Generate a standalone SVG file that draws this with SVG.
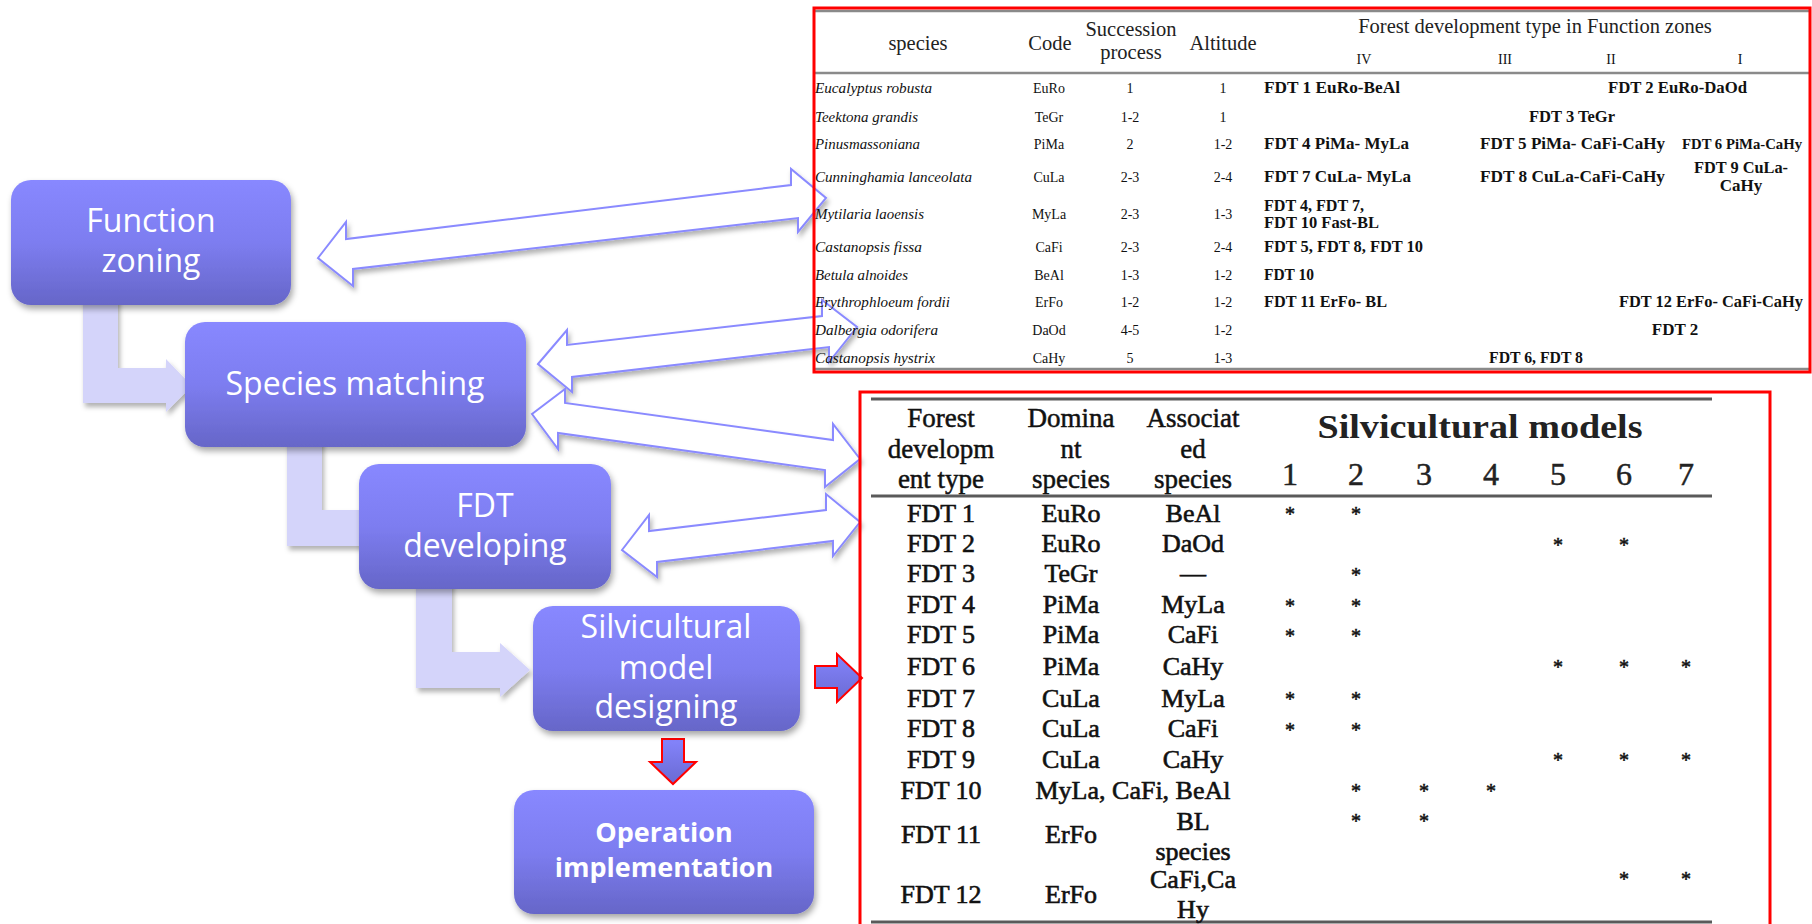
<svg xmlns="http://www.w3.org/2000/svg" width="1812" height="924" viewBox="0 0 1812 924">
  <defs>
    <linearGradient id="boxFill" x1="0" y1="0" x2="0" y2="1">
      <stop offset="0" stop-color="#8888ff"/>
      <stop offset="0.5" stop-color="#7d7df0"/>
      <stop offset="1" stop-color="#6666c8"/>
    </linearGradient>
    <linearGradient id="redArrowFill" x1="0" y1="0" x2="0" y2="1">
      <stop offset="0" stop-color="#8484fc"/>
      <stop offset="1" stop-color="#6a6ad2"/>
    </linearGradient>
    <filter id="boxShadow" x="-10%" y="-10%" width="125%" height="130%">
      <feDropShadow dx="2" dy="4" stdDeviation="3" flood-color="#000" flood-opacity="0.35"/>
    </filter>
    <filter id="arrowShadow" x="-10%" y="-30%" width="125%" height="170%">
      <feDropShadow dx="2" dy="4" stdDeviation="2.5" flood-color="#000" flood-opacity="0.3"/>
    </filter>
    <style>
      .box { fill: url(#boxFill); filter: url(#boxShadow); }
      .box-text { font-family: "Open Sans", "DejaVu Sans", sans-serif; font-size: 32px; fill: #ffffff; text-anchor: middle; }
      .box-bold { font-weight: bold; font-size: 27px; }
      .elbow { fill: #d4d4fa; filter: url(#arrowShadow); }
      .dbl { fill: #ffffff; stroke: #8a8aff; stroke-width: 2; stroke-linejoin: miter; filter: url(#arrowShadow); }
      .red-arrow { fill: url(#redArrowFill); stroke: #ff0000; stroke-width: 2; }
      .frame { fill: none; stroke: #ff0000; stroke-width: 3; }
      .rule-top { stroke: #8a8a8a; stroke-width: 2.5; }
      .rule-bot { stroke: #5a5a5a; stroke-width: 3; }
      .th { font-family: "Liberation Serif", "Times New Roman", serif; font-size: 20.5px; fill: #222; text-anchor: middle; }
      .sp { font-family: "Liberation Serif", "Times New Roman", serif; font-size: 15px; font-style: italic; fill: #111; }
      .tc { font-family: "Liberation Serif", "Times New Roman", serif; font-size: 14px; fill: #111; text-anchor: middle; }
      .tb { font-family: "Liberation Serif", "Times New Roman", serif; font-size: 17px; font-weight: bold; fill: #111; }
      .tb-small { font-size: 14.5px; }
      .tbm { text-anchor: middle; }
      .bh { font-family: "Liberation Serif", "Times New Roman", serif; font-size: 27px; fill: #111; stroke: #111; stroke-width: 0.5; text-anchor: middle; }
      .bc { font-family: "Liberation Serif", "Times New Roman", serif; font-size: 26px; fill: #111; stroke: #111; stroke-width: 0.6; text-anchor: middle; }
      .bt { font-family: "Liberation Serif", "Times New Roman", serif; font-size: 33px; font-weight: bold; fill: #222; text-anchor: middle; }
      .bn { font-family: "Liberation Serif", "Times New Roman", serif; font-size: 32px; fill: #222; stroke: #222; stroke-width: 0.5; text-anchor: middle; }
      .star { font-family: "Liberation Serif", "Times New Roman", serif; font-size: 20px; fill: #111; stroke: #111; stroke-width: 0.5; text-anchor: middle; }
    </style>
  </defs>

  <rect width="1812" height="924" fill="#ffffff"/>

  <!-- Connectors (drawn beneath the tables and the process boxes) -->
  <g id="connectors">
    <!-- step elbows between process boxes -->
    <polygon class="elbow" points="83,290 118,290 118,368 166,368 166,359 192,386 166,412 166,403 83,403"/>
    <polygon class="elbow" points="287,435 322,435 322,510 380,510 380,546 287,546"/>
    <polygon class="elbow" points="416,575 452,575 452,652 500,652 500,643 530,670 500,697 500,688 416,688"/>

    <!-- two-way block arrows to the tables -->
    <polygon class="dbl" points="318,258 346,222 346,239 791,185 791,169 826,198 798,232 798,218 353,269 353,286"/>
    <polygon class="dbl" points="538,364 567,330 567,345 822,316 822,300 857,327 829,362 829,347 572,377 572,392"/>
    <polygon class="dbl" points="532,414 565,389 565,403 833,440 833,424 860,459 825,487 825,470 558,433 558,449"/>
    <polygon class="dbl" points="622,550 649,515 649,531 826,510 826,494 860,522 833,556 833,541 657,562 657,577"/>

    <!-- red-outlined arrows -->
    <polygon class="red-arrow" points="815,666 837,666 837,654 862,678 837,702 837,688 815,688"/>
    <polygon class="red-arrow" points="662,739 684,739 684,762 696,762 673,784 650,762 662,762"/>
  </g>

  <!-- Species / FDT table (top right) -->
  <g id="species-table">
    <line class="rule-top" x1="815" y1="11" x2="1809" y2="11"/>
    <line class="rule-top" x1="815" y1="73" x2="1809" y2="73"/>
    <line class="rule-top" x1="815" y1="369" x2="1809" y2="369"/>
    <rect class="frame" x="814" y="8" width="996" height="364"/>

    <text class="th" x="918" y="50">species</text>
    <text class="th" x="1050" y="50">Code</text>
    <text class="th" x="1131" y="36">Succession</text>
    <text class="th" x="1131" y="59">process</text>
    <text class="th" x="1223" y="50">Altitude</text>
    <text class="th" x="1535" y="33">Forest development type in Function zones</text>
    <text class="tc" x="1364" y="64">IV</text>
    <text class="tc" x="1505" y="64">III</text>
    <text class="tc" x="1611" y="64">II</text>
    <text class="tc" x="1740" y="64">I</text>

    <text class="sp" x="815" y="93" textLength="117" lengthAdjust="spacingAndGlyphs">Eucalyptus robusta</text>
    <text class="sp" x="815" y="122" textLength="103" lengthAdjust="spacingAndGlyphs">Teektona grandis</text>
    <text class="sp" x="815" y="149" textLength="105" lengthAdjust="spacingAndGlyphs">Pinusmassoniana</text>
    <text class="sp" x="815" y="182" textLength="157" lengthAdjust="spacingAndGlyphs">Cunninghamia lanceolata</text>
    <text class="sp" x="815" y="219" textLength="109" lengthAdjust="spacingAndGlyphs">Mytilaria laoensis</text>
    <text class="sp" x="815" y="252" textLength="107" lengthAdjust="spacingAndGlyphs">Castanopsis fissa</text>
    <text class="sp" x="815" y="280" textLength="93" lengthAdjust="spacingAndGlyphs">Betula alnoides</text>
    <text class="sp" x="815" y="307" textLength="135" lengthAdjust="spacingAndGlyphs">Erythrophloeum fordii</text>
    <text class="sp" x="815" y="335" textLength="123" lengthAdjust="spacingAndGlyphs">Dalbergia odorifera</text>
    <text class="sp" x="815" y="363" textLength="120" lengthAdjust="spacingAndGlyphs">Castanopsis hystrix</text>

    <text class="tc" x="1049" y="93">EuRo</text>
    <text class="tc" x="1049" y="122">TeGr</text>
    <text class="tc" x="1049" y="149">PiMa</text>
    <text class="tc" x="1049" y="182">CuLa</text>
    <text class="tc" x="1049" y="219">MyLa</text>
    <text class="tc" x="1049" y="252">CaFi</text>
    <text class="tc" x="1049" y="280">BeAl</text>
    <text class="tc" x="1049" y="307">ErFo</text>
    <text class="tc" x="1049" y="335">DaOd</text>
    <text class="tc" x="1049" y="363">CaHy</text>

    <text class="tc" x="1130" y="93">1</text>
    <text class="tc" x="1130" y="122">1-2</text>
    <text class="tc" x="1130" y="149">2</text>
    <text class="tc" x="1130" y="182">2-3</text>
    <text class="tc" x="1130" y="219">2-3</text>
    <text class="tc" x="1130" y="252">2-3</text>
    <text class="tc" x="1130" y="280">1-3</text>
    <text class="tc" x="1130" y="307">1-2</text>
    <text class="tc" x="1130" y="335">4-5</text>
    <text class="tc" x="1130" y="363">5</text>

    <text class="tc" x="1223" y="93">1</text>
    <text class="tc" x="1223" y="122">1</text>
    <text class="tc" x="1223" y="149">1-2</text>
    <text class="tc" x="1223" y="182">2-4</text>
    <text class="tc" x="1223" y="219">1-3</text>
    <text class="tc" x="1223" y="252">2-4</text>
    <text class="tc" x="1223" y="280">1-2</text>
    <text class="tc" x="1223" y="307">1-2</text>
    <text class="tc" x="1223" y="335">1-2</text>
    <text class="tc" x="1223" y="363">1-3</text>

    <text class="tb" x="1264" y="93" textLength="136" lengthAdjust="spacingAndGlyphs">FDT 1  EuRo-BeAl</text>
    <text class="tb" x="1608" y="93" textLength="139" lengthAdjust="spacingAndGlyphs">FDT 2 EuRo-DaOd</text>
    <text class="tb" x="1529" y="122" textLength="86" lengthAdjust="spacingAndGlyphs">FDT 3 TeGr</text>
    <text class="tb" x="1264" y="149" textLength="145" lengthAdjust="spacingAndGlyphs">FDT 4  PiMa- MyLa</text>
    <text class="tb" x="1480" y="149" textLength="185" lengthAdjust="spacingAndGlyphs">FDT 5 PiMa- CaFi-CaHy</text>
    <text class="tb tb-small" x="1682" y="149" textLength="120" lengthAdjust="spacingAndGlyphs">FDT 6 PiMa-CaHy</text>
    <text class="tb" x="1264" y="182" textLength="147" lengthAdjust="spacingAndGlyphs">FDT 7  CuLa- MyLa</text>
    <text class="tb" x="1480" y="182" textLength="185" lengthAdjust="spacingAndGlyphs">FDT 8  CuLa-CaFi-CaHy</text>
    <text class="tb" x="1694" y="173" textLength="94" lengthAdjust="spacingAndGlyphs">FDT 9 CuLa-</text>
    <text class="tb tbm" x="1741" y="191">CaHy</text>
    <text class="tb" x="1264" y="211" textLength="100" lengthAdjust="spacingAndGlyphs">FDT 4, FDT 7,</text>
    <text class="tb" x="1264" y="228" textLength="115" lengthAdjust="spacingAndGlyphs">FDT 10 Fast-BL</text>
    <text class="tb" x="1264" y="252" textLength="159" lengthAdjust="spacingAndGlyphs">FDT 5,  FDT 8, FDT 10</text>
    <text class="tb" x="1264" y="280" textLength="50" lengthAdjust="spacingAndGlyphs">FDT 10</text>
    <text class="tb" x="1264" y="307" textLength="123" lengthAdjust="spacingAndGlyphs">FDT 11 ErFo- BL</text>
    <text class="tb" x="1619" y="307" textLength="184" lengthAdjust="spacingAndGlyphs">FDT 12 ErFo-  CaFi-CaHy</text>
    <text class="tb tbm" x="1675" y="335">FDT 2</text>
    <text class="tb tbm" x="1536" y="363" textLength="94" lengthAdjust="spacingAndGlyphs">FDT 6, FDT 8</text>
  </g>

  <!-- Silvicultural model table (bottom right) -->
  <g id="model-table">
    <rect class="frame" x="860" y="392" width="910" height="545"/>
    <line class="rule-bot" x1="871" y1="399" x2="1712" y2="399"/>
    <line class="rule-bot" x1="871" y1="496" x2="1712" y2="496"/>
    <line class="rule-bot" x1="871" y1="922" x2="1712" y2="922"/>

    <text class="bh" x="941" y="427">Forest</text>
    <text class="bh" x="941" y="458">developm</text>
    <text class="bh" x="941" y="488">ent type</text>
    <text class="bh" x="1071" y="427">Domina</text>
    <text class="bh" x="1071" y="458">nt</text>
    <text class="bh" x="1071" y="488">species</text>
    <text class="bh" x="1193" y="427">Associat</text>
    <text class="bh" x="1193" y="458">ed</text>
    <text class="bh" x="1193" y="488">species</text>
    <text class="bt" x="1480" y="438" textLength="325" lengthAdjust="spacingAndGlyphs">Silvicultural models</text>
    <text class="bn" x="1290" y="485">1</text>
    <text class="bn" x="1356" y="485">2</text>
    <text class="bn" x="1424" y="485">3</text>
    <text class="bn" x="1491" y="485">4</text>
    <text class="bn" x="1558" y="485">5</text>
    <text class="bn" x="1624" y="485">6</text>
    <text class="bn" x="1686" y="485">7</text>

    <text class="bc" x="941" y="522">FDT 1</text>
    <text class="bc" x="1071" y="522">EuRo</text>
    <text class="bc" x="1193" y="522">BeAl</text>
    <text class="bc" x="941" y="552">FDT 2</text>
    <text class="bc" x="1071" y="552">EuRo</text>
    <text class="bc" x="1193" y="552">DaOd</text>
    <text class="bc" x="941" y="582">FDT 3</text>
    <text class="bc" x="1071" y="582">TeGr</text>
    <text class="bc" x="1193" y="582">—</text>
    <text class="bc" x="941" y="613">FDT 4</text>
    <text class="bc" x="1071" y="613">PiMa</text>
    <text class="bc" x="1193" y="613">MyLa</text>
    <text class="bc" x="941" y="643">FDT 5</text>
    <text class="bc" x="1071" y="643">PiMa</text>
    <text class="bc" x="1193" y="643">CaFi</text>
    <text class="bc" x="941" y="675">FDT 6</text>
    <text class="bc" x="1071" y="675">PiMa</text>
    <text class="bc" x="1193" y="675">CaHy</text>
    <text class="bc" x="941" y="707">FDT 7</text>
    <text class="bc" x="1071" y="707">CuLa</text>
    <text class="bc" x="1193" y="707">MyLa</text>
    <text class="bc" x="941" y="737">FDT 8</text>
    <text class="bc" x="1071" y="737">CuLa</text>
    <text class="bc" x="1193" y="737">CaFi</text>
    <text class="bc" x="941" y="768">FDT 9</text>
    <text class="bc" x="1071" y="768">CuLa</text>
    <text class="bc" x="1193" y="768">CaHy</text>
    <text class="bc" x="941" y="799">FDT 10</text>
    <text class="bc" x="1133" y="799">MyLa, CaFi, BeAl</text>
    <text class="bc" x="941" y="843">FDT 11</text>
    <text class="bc" x="1071" y="843">ErFo</text>
    <text class="bc" x="1193" y="830">BL</text>
    <text class="bc" x="1193" y="860">species</text>
    <text class="bc" x="941" y="903">FDT 12</text>
    <text class="bc" x="1071" y="903">ErFo</text>
    <text class="bc" x="1193" y="888">CaFi,Ca</text>
    <text class="bc" x="1193" y="918">Hy</text>

    <!-- model marks -->
    <g class="star">
      <text x="1290" y="521">*</text><text x="1356" y="521">*</text>
      <text x="1558" y="552">*</text><text x="1624" y="552">*</text>
      <text x="1356" y="582">*</text>
      <text x="1290" y="613">*</text><text x="1356" y="613">*</text>
      <text x="1290" y="643">*</text><text x="1356" y="643">*</text>
      <text x="1558" y="674">*</text><text x="1624" y="674">*</text><text x="1686" y="674">*</text>
      <text x="1290" y="706">*</text><text x="1356" y="706">*</text>
      <text x="1290" y="737">*</text><text x="1356" y="737">*</text>
      <text x="1558" y="767">*</text><text x="1624" y="767">*</text><text x="1686" y="767">*</text>
      <text x="1356" y="798">*</text><text x="1424" y="798">*</text><text x="1491" y="798">*</text>
      <text x="1356" y="828">*</text><text x="1424" y="828">*</text>
      <text x="1624" y="886">*</text><text x="1686" y="886">*</text>
    </g>
  </g>

  <!-- Process boxes -->
  <g id="function-zoning">
    <rect class="box" x="11" y="180" width="280" height="125" rx="20"/>
    <text class="box-text" x="151" y="232">Function</text>
    <text class="box-text" x="151" y="272">zoning</text>
  </g>
  <g id="species-matching">
    <rect class="box" x="185" y="322" width="341" height="125" rx="20"/>
    <text class="box-text" x="355" y="395">Species matching</text>
  </g>
  <g id="fdt-developing">
    <rect class="box" x="359" y="464" width="252" height="125" rx="20"/>
    <text class="box-text" x="485" y="517">FDT</text>
    <text class="box-text" x="485" y="557">developing</text>
  </g>
  <g id="silvicultural-model-designing">
    <rect class="box" x="533" y="606" width="267" height="125" rx="20"/>
    <text class="box-text" x="666" y="638">Silvicultural</text>
    <text class="box-text" x="666" y="679">model</text>
    <text class="box-text" x="666" y="718">designing</text>
  </g>
  <g id="operation-implementation">
    <rect class="box" x="514" y="790" width="300" height="124" rx="20"/>
    <text class="box-text box-bold" x="664" y="842">Operation</text>
    <text class="box-text box-bold" x="664" y="877">implementation</text>
  </g>
</svg>
